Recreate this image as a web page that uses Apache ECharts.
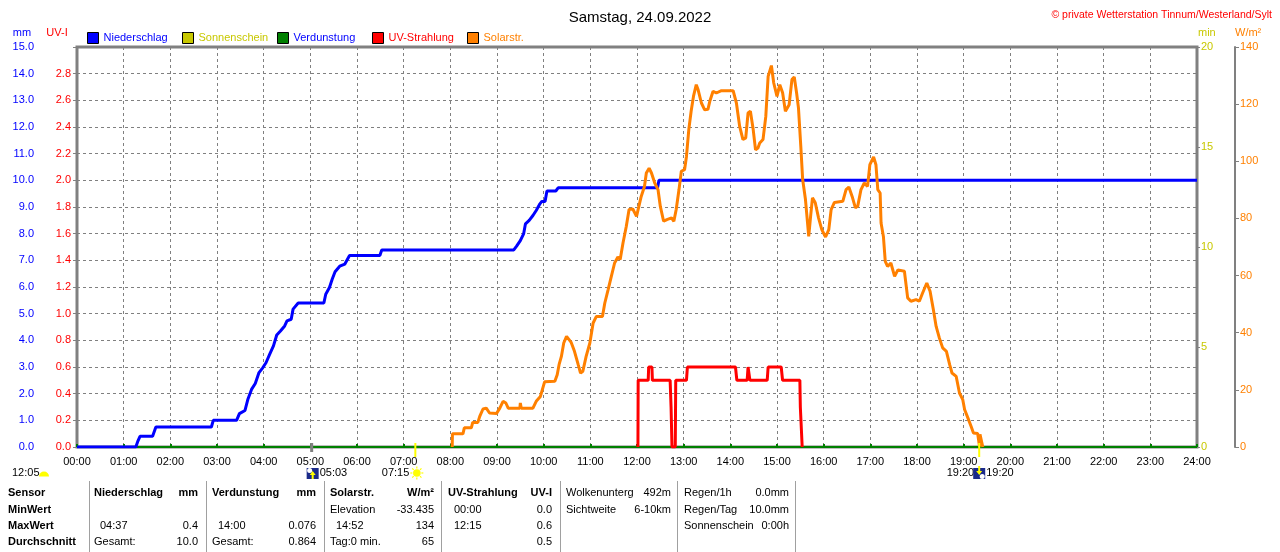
<!DOCTYPE html>
<html><head><meta charset="utf-8">
<script src="https://cdn.jsdelivr.net/npm/echarts@6/dist/echarts.min.js"></script>
<style>html,body{margin:0;padding:0;background:#fff}#c{width:1280px;height:552px}</style>
</head><body><div id="c"></div>
<script>
// ---------- data (time in hours) ----------
const titleText = 'Samstag, 24.09.2022';
const copyrightText = '© private Wetterstation Tinnum/Westerland/Sylt';
const legendNames = ['Niederschlag','Sonnenschein','Verdunstung','UV-Strahlung','Solarstr.'];
const axisNames = ['mm','UV-I','min','W/m²'];

const precipT = [0,1.26,1.30,1.35,1.62,1.66,1.69,2.88,2.92,3.42,3.48,3.60,3.66,3.74,3.82,3.90,3.98,4.05,4.13,4.21,4.28,4.36,4.45,4.50,4.59,4.63,4.74,5.29,5.33,5.41,5.47,5.53,5.63,5.74,5.84,6.49,6.53,9.36,9.42,9.50,9.57,9.61,9.69,9.77,9.84,9.92,9.96,10.03,10.07,10.26,10.31,12.44,12.47,24];
const precipV = [0,0,0.2,0.4,0.4,0.6,0.75,0.75,1.0,1.0,1.25,1.37,1.78,2.16,2.38,2.79,2.97,3.16,3.48,3.79,4.2,4.35,4.54,4.73,4.79,5.17,5.4,5.4,5.73,5.98,6.3,6.57,6.78,6.86,7.18,7.18,7.39,7.39,7.53,7.74,7.99,8.37,8.5,8.68,8.87,9.12,9.21,9.21,9.6,9.6,9.72,9.72,10.0,10.0];

const evapT = [0,24];
const evapV = [0,0];

const uvT = [12.02,12.025,12.24,12.25,12.32,12.33,12.71,12.73,12.75,12.82,12.83,13.06,13.08,14.11,14.14,14.36,14.38,14.42,14.79,14.81,15.09,15.12,15.49,15.50,15.54];
const uvV = [0,0.5,0.5,0.6,0.6,0.5,0.5,0.3,0,0,0.5,0.5,0.6,0.6,0.5,0.5,0.6,0.5,0.5,0.6,0.6,0.5,0.5,0.3,0];

const solarT = [8.04,8.045,8.27,8.30,8.45,8.48,8.59,8.63,8.70,8.77,8.84,8.99,9.06,9.13,9.19,9.24,9.49,9.50,9.52,9.77,9.84,9.93,10.02,10.24,10.29,10.33,10.38,10.43,10.49,10.59,10.66,10.74,10.79,10.84,10.91,10.99,11.06,11.13,11.26,11.31,11.38,11.45,11.52,11.59,11.64,11.70,11.77,11.83,11.91,11.99,12.02,12.09,12.16,12.20,12.26,12.31,12.38,12.45,12.50,12.57,12.64,12.74,12.79,12.84,12.90,12.95,13.02,13.06,13.11,13.16,13.21,13.27,13.31,13.38,13.45,13.52,13.56,13.63,13.70,13.81,14.06,14.13,14.20,14.27,14.33,14.38,14.43,14.49,14.54,14.59,14.63,14.70,14.76,14.81,14.88,14.93,15.00,15.06,15.12,15.18,15.26,15.32,15.37,15.42,15.46,15.51,15.55,15.61,15.68,15.72,15.76,15.82,15.89,15.96,16.04,16.11,16.16,16.23,16.41,16.48,16.54,16.61,16.68,16.73,16.80,16.87,16.94,16.99,17.07,17.12,17.16,17.21,17.23,17.28,17.32,17.37,17.44,17.52,17.59,17.73,17.80,17.87,17.98,18.05,18.12,18.21,18.28,18.35,18.41,18.48,18.55,18.63,18.70,18.75,18.84,18.91,18.98,19.02,19.09,19.16,19.21,19.30,19.34,19.35,19.38,19.41];
const solarV = [0,4.6,4.6,6.7,6.7,8.6,8.6,10.7,13.3,13.6,11.9,11.7,13.6,16.0,15.4,13.6,13.6,15.4,13.6,13.6,16.0,17.7,22.8,23.0,25.3,28.8,31.7,36.4,38.7,36.6,33.5,28.8,25.9,26.5,31.7,36.4,43.4,45.7,45.7,50.4,55.0,59.7,64.4,66.5,65.6,71.4,77.2,83.1,83.3,80.7,81.0,87.7,91.2,95.9,97.6,95.9,92.4,90.1,84.2,79.0,79.6,80.2,79.0,83.1,90.1,96.5,97.1,101.7,111.1,117.5,122.7,126.8,125.0,120.4,118.0,118.2,121.0,124.5,123.9,124.7,124.7,120.4,112.2,107.6,108.2,116.9,117.5,111.1,104.0,104.6,106.4,107.6,115.7,129.7,133.5,127.4,122.7,126.8,124.0,117.5,119.8,128.6,129.5,123.9,118.7,105.2,93.6,86.6,73.7,80.7,87.2,85.5,80.2,76.1,73.5,76.1,83.1,85.6,86.0,90.1,91.0,87.7,83.7,84.3,90.1,92.4,91.2,98.8,101.5,98.8,90.1,88.9,78.4,73.7,65.0,63.2,64.4,59.7,62.0,61.5,52.2,51.0,51.6,51.0,53.9,57.4,54.5,48.1,42.2,38.1,34.7,33.5,28.8,25.9,24.7,18.9,16.6,13.1,10.2,7.2,4.9,4.7,0.2,4.4,4.4,0];

const sunshineT = [];
const sunshineV = [];

// astronomical markers
const moonLeftLabel = '12:05';
const moonriseTime = 5.05, moonriseLabel = '05:03';
const sunriseTime = 7.25, sunriseLabel = '07:15';
const sunsetTime = 19.333, sunsetLabel = '19:20';
const moonsetLabel = '19:20';

// table contents
const rowLabels = ['Sensor','MinWert','MaxWert','Durchschnitt'];
const sensorNames = ['Niederschlag','Verdunstung','Solarstr.','UV-Strahlung'];
const sensorUnits = ['mm','mm','W/m²','UV-I'];
const sensorMin = [['',''],['',''],['Elevation','-33.435'],['00:00','0.0']];
const sensorMax = [['04:37','0.4'],['14:00','0.076'],['14:52','134'],['12:15','0.6']];
const sensorAvg = [['Gesamt:','10.0'],['Gesamt:','0.864'],['Tag:0 min.','65'],['','0.5']];
const extraCol1 = [['Wolkenunterg','492m'],['Sichtweite','6-10km']];
const extraCol2 = [['Regen/1h','0.0mm'],['Regen/Tag','10.0mm'],['Sonnenschein','0:00h']];

// ---------- chart ----------
const zip = (a,b) => a.map((t,i)=>[t,b[i]]);
const FF = 'Liberation Sans, Arial, sans-serif';
const GRAY = '#808080';
const C = {blue:'#0000ff', yel:'#c8c800', green:'#008000', red:'#ff0000', orange:'#ff8000'};
const legendLeft = [87,182,277,372,467];
const legendText = [C.blue, C.yel, C.blue, C.red, C.orange];

const chart = echarts.init(document.getElementById('c'), null, {renderer:'canvas'});
const pad2 = v => (v<10?'0':'')+v;

chart.setOption({
  animation:false,
  backgroundColor:'#fff',
  textStyle:{fontFamily:FF},
  title:[
    {text:titleText, left:'center', top:5, textStyle:{fontSize:15, fontWeight:'normal', color:'#000', fontFamily:FF}},
    {text:copyrightText, right:3, top:5, textStyle:{fontSize:10.5, fontWeight:'normal', color:'#ff0000', fontFamily:FF}}
  ],
  legend: legendNames.map((n,i)=>({
    data:[n], left:legendLeft[i], top:32, icon:'rect', itemWidth:11, itemHeight:11,
    selectedMode:false, padding:0,
    itemStyle:{borderColor:'#000', borderWidth:1},
    textStyle:{color:legendText[i], fontSize:11, fontFamily:FF}
  })),
  grid:{left:77, right:83, top:47, bottom:105, show:true, borderColor:GRAY, borderWidth:3, backgroundColor:'#fff'},
  xAxis:{
    type:'value', min:0, max:24, interval:1,
    axisLine:{show:false},
    axisTick:{show:true, inside:true, length:3, lineStyle:{color:C.green, width:2}},
    axisLabel:{color:'#000', fontSize:11, margin:9, fontFamily:FF, formatter:v=>pad2(v)+':00'},
    splitLine:{show:true, lineStyle:{color:GRAY, type:[3,3], width:1}}
  },
  yAxis:[
    {type:'value', position:'left', offset:37, min:0, max:15, interval:1,
     axisLine:{show:true, lineStyle:{color:GRAY, width:2}},
     axisTick:{show:true, length:4, lineStyle:{color:GRAY}},
     axisLabel:{color:C.blue, fontSize:11, margin:6, fontFamily:FF, formatter:v=>v.toFixed(1)},
     splitLine:{show:true, lineStyle:{color:GRAY, type:[3,3], width:1}}},
    {type:'value', position:'left', offset:0, min:0, max:3, interval:0.2,
     axisLine:{show:false}, axisTick:{show:false},
     axisLabel:{color:C.red, fontSize:11, margin:6, fontFamily:FF, formatter:v=> v>2.95 ? '' : v.toFixed(1)},
     splitLine:{show:false}},
    {type:'value', position:'right', offset:0, min:0, max:20, interval:5,
     name:axisNames[2], nameLocation:'end', nameGap:9,
     nameTextStyle:{color:C.yel, fontSize:11, align:'left', padding:[0,0,0,1], fontFamily:FF},
     axisLine:{show:false}, axisTick:{show:true, length:3, lineStyle:{color:GRAY}},
     axisLabel:{color:C.yel, fontSize:11, margin:4, fontFamily:FF},
     splitLine:{show:false}},
    {type:'value', position:'right', offset:38, min:0, max:140, interval:20,
     name:axisNames[3], nameLocation:'end', nameGap:9,
     nameTextStyle:{color:C.orange, fontSize:11, align:'left', padding:[0,0,0,0], fontFamily:FF},
     axisLine:{show:true, lineStyle:{color:GRAY, width:2}},
     axisTick:{show:true, length:4, lineStyle:{color:GRAY}},
     axisLabel:{color:C.orange, fontSize:11, margin:5, fontFamily:FF},
     splitLine:{show:false}}
  ],
  series:[
    {name:'Verdunstung', type:'line', yAxisIndex:0, data:zip(evapT,evapV), showSymbol:false, z:2,
     color:C.green, lineStyle:{color:C.green, width:2}},
    {name:'Sonnenschein', type:'line', yAxisIndex:2, data:zip(sunshineT,sunshineV), showSymbol:false, z:2,
     color:C.yel, lineStyle:{color:C.yel, width:3}},
    {name:'Niederschlag', type:'line', yAxisIndex:0, data:zip(precipT,precipV), showSymbol:false, z:3,
     color:C.blue, lineStyle:{color:C.blue, width:3}},
    {name:'UV-Strahlung', type:'line', yAxisIndex:1, data:zip(uvT,uvV), showSymbol:false, z:4,
     color:C.red, lineStyle:{color:C.red, width:3}},
    {name:'Solarstr.', type:'line', yAxisIndex:3, data:zip(solarT,solarV), showSymbol:false, z:5,
     color:C.orange, lineStyle:{color:C.orange, width:3}}
  ]
});

// ---------- decorations: axis titles, astro markers and table ----------
const px = t => chart.convertToPixel({xAxisIndex:0}, t);
const g = [];
const txt = (x,y,s,opt={}) => g.push({type:'text', x, y, silent:true, style:{text:s, font:(opt.bold?'bold ':'')+'11px '+FF, fill:opt.color||'#000', textAlign:opt.align||'left', textVerticalAlign:'middle'}});

// left axis titles
txt(22, 33, axisNames[0], {color:C.blue, align:'center'});
txt(57, 33, axisNames[1], {color:C.red, align:'center'});

function navyIcon(cx, up){
  g.push({type:'rect', shape:{x:cx-6, y:468, width:12, height:11}, style:{fill:'#1a2a8a'}, z:10});
  if (up){
    g.push({type:'circle', shape:{cx:cx-3, cy:470.5, r:2.5}, style:{fill:'#fff'}, z:11});
    g.push({type:'polygon', shape:{points:[[cx,471],[cx-3,475],[cx-1,475],[cx-1,479],[cx+1,479],[cx+1,475],[cx+3,475]]}, style:{fill:'#ffff00'}, z:11});
  } else {
    g.push({type:'circle', shape:{cx:cx+3, cy:476.5, r:2.5}, style:{fill:'#fff'}, z:11});
    g.push({type:'polygon', shape:{points:[[cx,475],[cx-3,471],[cx-1,471],[cx-1,466],[cx+1,466],[cx+1,471],[cx+3,471]]}, style:{fill:'#ffff00'}, z:11});
  }
}
function sunIcon(cx, cy){
  for (let k=0;k<8;k++){
    const a = k*Math.PI/4;
    g.push({type:'line', shape:{x1:cx+Math.cos(a)*4.5, y1:cy+Math.sin(a)*4.5, x2:cx+Math.cos(a)*6.5, y2:cy+Math.sin(a)*6.5}, style:{stroke:'#ffff00', lineWidth:1.2}, z:10});
  }
  g.push({type:'circle', shape:{cx, cy, r:3.8}, style:{fill:'#ffff00'}, z:10});
}

// left moon label
txt(12, 473, moonLeftLabel);
g.push({type:'sector', shape:{cx:44, cy:476.5, r:5, startAngle:Math.PI, endAngle:2*Math.PI}, style:{fill:'#ffff00'}});

// moonrise marker
const xm = px(moonriseTime);
g.push({type:'line', shape:{x1:xm-1, y1:443, x2:xm-1, y2:452}, style:{stroke:GRAY, lineWidth:3}, z:10});
navyIcon(xm, true);
txt(xm+7, 473, moonriseLabel);

// sunrise marker
const xs = px(sunriseTime);
g.push({type:'line', shape:{x1:xs, y1:443, x2:xs, y2:457}, style:{stroke:'#ffff00', lineWidth:2}, z:10});
sunIcon(xs+1.5, 473);
txt(xs-6, 473, sunriseLabel, {align:'right'});

// sunset / moonset
const xe = px(sunsetTime);
g.push({type:'line', shape:{x1:xe, y1:443, x2:xe, y2:457}, style:{stroke:'#ffff00', lineWidth:2}, z:10});
navyIcon(xe, false);
txt(xe-5, 473, sunsetLabel, {align:'right'});
txt(xe+7, 473, moonsetLabel);

// table
const rowY = [493,510,526,542];
const sepX = [89,206,324,441,560,677,795];
sepX.forEach(x => g.push({type:'line', shape:{x1:x+0.5, y1:481, x2:x+0.5, y2:552}, style:{stroke:'#a0a0a0', lineWidth:1}}));
rowLabels.forEach((s,i)=>txt(8, rowY[i], s, {bold:true}));
const colL = [94,212,330,448], colR = [198,316,434,552];
const isTime = s => /^\d\d:\d\d$/.test(s);
sensorNames.forEach((n,i)=>{
  txt(colL[i], rowY[0], n, {bold:true});
  txt(colR[i], rowY[0], sensorUnits[i], {bold:true, align:'right'});
  [sensorMin[i], sensorMax[i], sensorAvg[i]].forEach((pair,r)=>{
    if (pair[0]) txt(colL[i] + (isTime(pair[0])?6:0), rowY[r+1], pair[0]);
    if (pair[1]) txt(colR[i], rowY[r+1], pair[1], {align:'right'});
  });
});
extraCol1.forEach((p,r)=>{ txt(566, rowY[r], p[0]); txt(671, rowY[r], p[1], {align:'right'}); });
extraCol2.forEach((p,r)=>{ txt(684, rowY[r], p[0]); txt(789, rowY[r], p[1], {align:'right'}); });

chart.setOption({graphic:g});
</script>
</body></html>
